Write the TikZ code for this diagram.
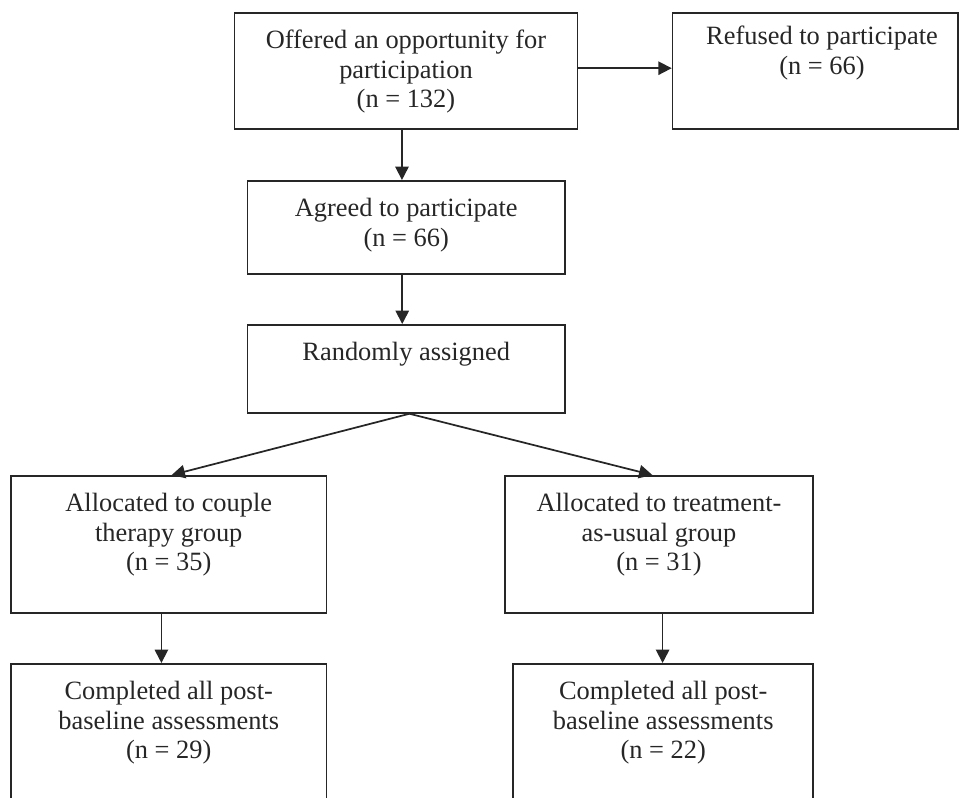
\documentclass[tikz,border=0pt]{standalone}
\usepackage{fontspec}
\setmainfont{Liberation Serif}
\usetikzlibrary{arrows.meta}
\begin{document}
\begin{tikzpicture}[x=0.75pt,y=-0.75pt,
  line width=1.3pt,
  box/.style={draw=black!85, line width=1.3pt, rectangle, inner sep=0pt, minimum width=#1},
  txt/.style={align=center, inner sep=0pt, anchor=north, font=\fontsize{19.8}{22.2}\selectfont, text=black!85},
  arr/.style={draw=black!85, line width=1.3pt, -{Triangle[length=10pt,width=10pt]}}]
\useasboundingbox (0,0) rectangle (959,797);
\clip (0,0) rectangle (959,797);
% boxes
\node[box=257.4pt, minimum height=87pt, anchor=north west] (b1) at (233.5,12) {};
\node[box=214pt, minimum height=87pt, anchor=north west] (b2) at (671.7,12) {};
\node[box=238pt, minimum height=69.7pt, anchor=north west] (b3) at (246.7,180) {};
\node[box=238pt, minimum height=66pt, anchor=north west] (b4) at (246.7,324) {};
\node[box=236.8pt, minimum height=102.8pt, anchor=north west] (b5) at (10,475) {};
\node[box=231.2pt, minimum height=102.8pt, anchor=north west] (b6) at (504,475) {};
\node[box=236.8pt, minimum height=120pt, anchor=north west] (b7) at (10,663) {};
\node[box=225pt, minimum height=120pt, anchor=north west] (b8) at (512.3,663) {};
% texts
\node[txt] (t1) at ([yshift=-13]b1.north) {Offered an opportunity for\\participation\\(n = 132)};
\node[txt] (t2) at (822,25) {Refused to participate\\(n = 66)};
\node[txt] (t3) at ([yshift=-13]b3.north) {Agreed to participate\\(n = 66)};
\node[txt] (t4) at ([yshift=-13]b4.north) {Randomly assigned};
\node[txt] (t5) at ([yshift=-13]b5.north) {Allocated to couple\\therapy group\\(n = 35)};
\node[txt] (t6) at ([yshift=-13]b6.north) {Allocated to treatment-\\as-usual group\\(n = 31)};
\node[txt] (t7) at ([yshift=-13]b7.north) {Completed all post-\\baseline assessments\\(n = 29)};
\node[txt] (t8) at ([yshift=-13]b8.north) {Completed all post-\\baseline assessments\\(n = 22)};
% connectors
\draw[arr] ([yshift=2]b1.east) -- ([yshift=2]b1.east -| b2.west);
\draw[arr] ([xshift=-3]b1.south) -- ([xshift=-3]b1.south |- b3.north);
\draw[arr] ([xshift=-3]b3.south) -- ([xshift=-3]b3.south |- b4.north);
\draw[arr] ([xshift=2.4]b4.south) -- ([xshift=2.2]b5.north);
\draw[arr] ([xshift=2.4]b4.south) -- ([xshift=-5]b6.north);
\draw[arr] ([xshift=-5.5]b5.south) -- ([xshift=-5.5]b7.north);
\draw[arr] ([xshift=2.7]b6.south) -- ([xshift=2.7]b6.south |- b8.north);
\end{tikzpicture}
\end{document}
